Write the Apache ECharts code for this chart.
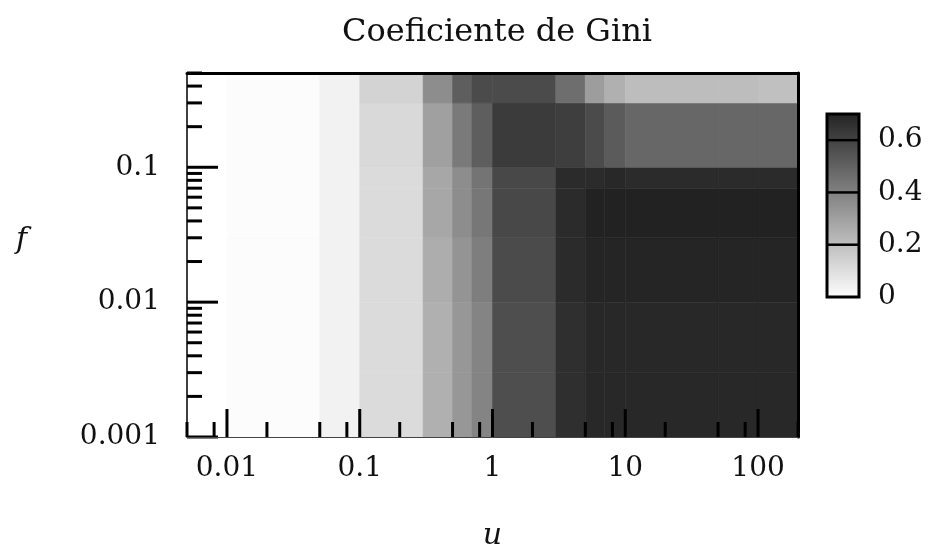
<!DOCTYPE html>
<html><head><meta charset="utf-8">
<script src="https://cdn.jsdelivr.net/npm/echarts@6/dist/echarts.min.js"></script>
<style>html,body{margin:0;padding:0;background:#fff}#c{width:931px;height:549px}</style>
</head><body><div id="c"></div>
<script>
// ---- data ----
const uEdges = [0.005, 0.01, 0.05, 0.1, 0.3, 0.5, 0.7, 1, 3, 5, 7, 10, 50, 100, 200];
const fEdges = [0.001, 0.003, 0.01, 0.03, 0.07, 0.1, 0.3, 0.5];
// Gini coefficient per f-band (lowest band first), one value per u-band
const gini_f0001_0003 = [0, 0.01, 0.04, 0.115, 0.25, 0.33, 0.39, 0.56, 0.66, 0.68, 0.68, 0.68, 0.68, 0.68];
const gini_f0003_001  = [0, 0.01, 0.04, 0.115, 0.25, 0.33, 0.39, 0.56, 0.66, 0.68, 0.68, 0.68, 0.68, 0.68];
const gini_f001_003   = [0, 0.01, 0.04, 0.115, 0.26, 0.34, 0.41, 0.57, 0.67, 0.69, 0.69, 0.69, 0.69, 0.69];
const gini_f003_007   = [0, 0.01, 0.04, 0.115, 0.28, 0.36, 0.43, 0.58, 0.67, 0.70, 0.70, 0.70, 0.70, 0.70];
const gini_f007_01    = [0, 0.01, 0.04, 0.115, 0.28, 0.36, 0.44, 0.58, 0.67, 0.67, 0.68, 0.67, 0.67, 0.67];
const gini_f01_03     = [0, 0.01, 0.04, 0.12, 0.30, 0.42, 0.51, 0.62, 0.61, 0.57, 0.52, 0.48, 0.48, 0.48];
const gini_f03_05     = [0, 0.01, 0.04, 0.14, 0.36, 0.51, 0.57, 0.57, 0.46, 0.31, 0.25, 0.21, 0.21, 0.20];
const giniRows = [gini_f0001_0003, gini_f0003_001, gini_f001_003, gini_f003_007, gini_f007_01, gini_f01_03, gini_f03_05];

const xMajorTicks = [0.01, 0.1, 1, 10, 100];
const xTickLabels = ['0.01', '0.1', '1', '10', '100'];
const xMinorTicks = [0.005, 0.008, 0.02, 0.05, 0.08, 0.2, 0.5, 0.8, 2, 5, 8, 20, 50, 80, 200];
const yMajorTicks = [0.001, 0.01, 0.1];
const yTickLabels = ['0.001', '0.01', '0.1'];
const yMinorTicks = [0.002, 0.003, 0.004, 0.005, 0.006, 0.007, 0.008, 0.009,
                     0.02, 0.03, 0.04, 0.05, 0.06, 0.07, 0.08, 0.09,
                     0.2, 0.3, 0.4, 0.5];
const cbRange = [0, 0.7];
const cbTicks = [0, 0.2, 0.4, 0.6];
const cbTickLabels = ['0', '0.2', '0.4', '0.6'];
const paletteColors = ['#ffffff', '#222222'];

const titleText = 'Coeficiente de Gini';
const xName = 'u';
const yName = 'f';

// ---- build ----
const cells = [];
for (let i = 0; i < giniRows.length; i++) {
  for (let j = 0; j < uEdges.length - 1; j++) {
    cells.push([uEdges[j], uEdges[j + 1], fEdges[i], fEdges[i + 1], giniRows[i][j]]);
  }
}
const FONT = 'DejaVu Serif';
function logLabel(ticks, labels) {
  return function (v) {
    for (let k = 0; k < ticks.length; k++) {
      if (Math.abs(Math.log10(v) - Math.log10(ticks[k])) < 1e-6) return labels[k];
    }
    return '';
  };
}
function tickSeries(vals, len, dir) {
  return {
    type: 'custom', xAxisIndex: 0, yAxisIndex: 0, z: 6, silent: true, clip: false,
    data: vals.map(v => dir === 'x' ? [v, fEdges[0]] : [uEdges[0], v]),
    encode: { x: 0, y: 1 },
    renderItem(params, api) {
      const p = api.coord([api.value(0), api.value(1)]);
      const shape = dir === 'x'
        ? { x1: p[0], y1: p[1], x2: p[0], y2: p[1] - len }
        : { x1: p[0], y1: p[1], x2: p[0] + len, y2: p[1] };
      return { type: 'line', shape, style: { stroke: '#000', lineWidth: 3 } };
    }
  };
}

const chart = echarts.init(document.getElementById('c'));
chart.setOption({
  animation: false,
  backgroundColor: '#fff',
  title: {
    text: titleText, left: 492, top: 12, textAlign: 'center',
    textStyle: { fontFamily: FONT, fontSize: 32, fontWeight: 'normal', color: '#111' }
  },
  grid: [
    { left: 187, top: 73, width: 611, height: 364, outerBoundsMode: 'none', containLabel: false },
    { left: 827, top: 114, width: 32, height: 183, outerBoundsMode: 'none', containLabel: false }
  ],
  visualMap: {
    show: false, type: 'continuous', min: cbRange[0], max: cbRange[1],
    dimension: 4, seriesIndex: 0, inRange: { color: paletteColors }
  },
  xAxis: [
    {
      type: 'log', gridIndex: 0, min: uEdges[0], max: uEdges[uEdges.length - 1], logBase: 10, z: 8,
      name: xName, nameLocation: 'middle', nameGap: 84,
      nameTextStyle: { fontFamily: FONT, fontStyle: 'italic', fontSize: 30, color: '#111' },
      axisLine: { show: true, lineStyle: { color: '#444', width: 1 } },
      axisTick: { show: false }, splitLine: { show: false },
      axisLabel: { margin: 18, fontFamily: FONT, fontSize: 28, color: '#111', formatter: logLabel(xMajorTicks, xTickLabels) }
    },
    {
      type: 'log', gridIndex: 0, position: 'top', min: uEdges[0], max: uEdges[uEdges.length - 1], z: 8,
      axisLine: { show: true, lineStyle: { color: '#000', width: 3 } },
      axisTick: { show: false }, axisLabel: { show: false }, splitLine: { show: false }
    },
    { type: 'value', gridIndex: 1, min: 0, max: 1, show: false }
  ],
  yAxis: [
    {
      type: 'log', gridIndex: 0, min: fEdges[0], max: fEdges[fEdges.length - 1], logBase: 10, z: 8,
      name: yName, nameLocation: 'middle', nameGap: 160, nameRotate: 0,
      nameTextStyle: { fontFamily: FONT, fontStyle: 'italic', fontSize: 30, color: '#111', verticalAlign: 'bottom' },
      axisLine: { show: true, lineStyle: { color: '#000', width: 1.5 } },
      axisTick: { show: false }, splitLine: { show: false },
      axisLabel: { margin: 27, fontFamily: FONT, fontSize: 28, color: '#111', padding: [5, 0, 0, 0], formatter: logLabel(yMajorTicks, yTickLabels) }
    },
    {
      type: 'log', gridIndex: 0, position: 'right', min: fEdges[0], max: fEdges[fEdges.length - 1], z: 8,
      axisLine: { show: true, lineStyle: { color: '#000', width: 3 } },
      axisTick: { show: false }, axisLabel: { show: false }, splitLine: { show: false }
    },
    {
      type: 'value', gridIndex: 1, min: cbRange[0], max: cbRange[1], position: 'right',
      axisLine: { show: false }, axisTick: { show: false }, splitLine: { show: false },
      axisLabel: {
        margin: 19, fontFamily: FONT, fontSize: 28, color: '#111', padding: [7, 0, 0, 0],
        formatter: v => { const k = cbTicks.findIndex(t => Math.abs(t - v) < 1e-9); return k >= 0 ? cbTickLabels[k] : ''; }
      }
    }
  ],
  series: [
    {
      type: 'custom', xAxisIndex: 0, yAxisIndex: 0, silent: true, z: 2,
      data: cells, dimensions: ['u0', 'u1', 'f0', 'f1', 'g'],
      encode: { x: [0, 1], y: [2, 3] },
      renderItem(params, api) {
        const p0 = api.coord([api.value(0), api.value(2)]);
        const p1 = api.coord([api.value(1), api.value(3)]);
        const c = api.visual('color');
        return { type: 'rect', shape: { x: p0[0], y: p1[1], width: p1[0] - p0[0], height: p0[1] - p1[1] },
                 style: { fill: c, stroke: c, lineWidth: 0.6 } };
      }
    },
    tickSeries(xMajorTicks, 28, 'x'),
    tickSeries(xMinorTicks, 15, 'x'),
    tickSeries(yMajorTicks, 31, 'y'),
    tickSeries(yMinorTicks, 15, 'y'),
    {
      type: 'custom', xAxisIndex: 2, yAxisIndex: 2, silent: true, clip: false, z: 3,
      data: [[0, 1, cbRange[0], cbRange[1]]],
      encode: { x: [0, 1], y: [2, 3] },
      renderItem(params, api) {
        const p0 = api.coord([api.value(0), api.value(2)]);
        const p1 = api.coord([api.value(1), api.value(3)]);
        return { type: 'rect', shape: { x: p0[0], y: p1[1], width: p1[0] - p0[0], height: p0[1] - p1[1] },
                 style: { fill: { type: 'linear', x: 0, y: 1, x2: 0, y2: 0,
                   colorStops: [{ offset: 0, color: paletteColors[0] }, { offset: 1, color: paletteColors[1] }] },
                   stroke: '#000', lineWidth: 3 } };
      }
    },
    {
      type: 'custom', xAxisIndex: 2, yAxisIndex: 2, silent: true, clip: false, z: 4,
      data: cbTicks.slice(1).map(t => [0, t]),
      encode: { x: 0, y: 1 },
      renderItem(params, api) {
        const a = api.coord([0, api.value(1)]);
        const b = api.coord([1, api.value(1)]);
        return { type: 'line', shape: { x1: a[0], y1: a[1], x2: b[0], y2: b[1] }, style: { stroke: '#000', lineWidth: 2.5 } };
      }
    }
  ]
});
</script></body></html>
